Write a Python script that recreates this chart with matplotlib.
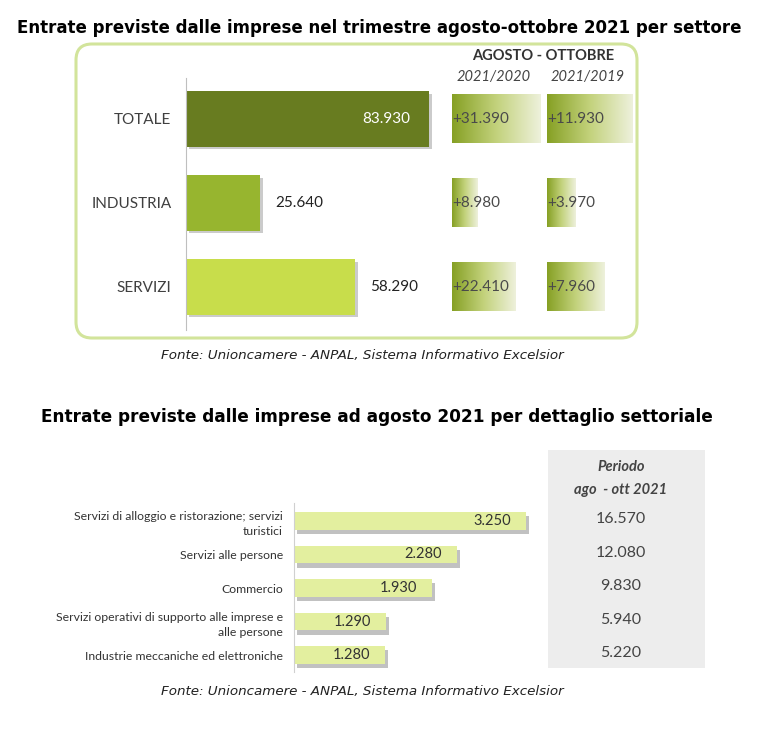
import matplotlib
matplotlib.use("Agg")
import matplotlib.pyplot as plt
import matplotlib.patheffects as pe
from matplotlib.patches import FancyBboxPatch, Rectangle
from matplotlib.colors import LinearSegmentedColormap
from matplotlib.transforms import blended_transform_factory
import numpy as np

# --- data -------------------------------------------------------------
settori = ["TOTALE", "INDUSTRIA", "SERVIZI"]
entrate = [83930, 25640, 58290]
var_2020 = [31390, 8980, 22410]
var_2019 = [11930, 3970, 7960]
colori_settori = ["#687c20", "#97b52f", "#c8dd4b"]

dettaglio = [
    "Servizi di alloggio e ristorazione; servizi\nturistici",
    "Servizi alle persone",
    "Commercio",
    "Servizi operativi di supporto alle imprese e\nalle persone",
    "Industrie meccaniche ed elettroniche",
]
entrate_agosto = [3250, 2280, 1930, 1290, 1280]
periodo_ago_ott = [16570, 12080, 9830, 5940, 5220]

titolo1 = "Entrate previste dalle imprese nel trimestre agosto-ottobre 2021 per settore"
titolo2 = "Entrate previste dalle imprese ad agosto 2021 per dettaglio settoriale"
fonte = "Fonte: Unioncamere - ANPAL, Sistema Informativo Excelsior"

W, H = 758, 729


def fmt(v):
    return f"{v:,}".replace(",", ".")


def rect(x0, y0, x1, y1):
    # pixel box (top-left origin) -> figure fraction
    return [x0 / W, 1 - y1 / H, (x1 - x0) / W, (y1 - y0) / H]


def fy(y):
    return 1 - y / H


plt.rcParams["font.family"] = ["Lato", "DejaVu Sans"]
fig = plt.figure(figsize=(W / 100, H / 100), dpi=100)
fig.patch.set_facecolor("white")

# titles and sources
fig.text(379 / W, fy(28), titolo1, ha="center", va="center", fontsize=12,
         fontweight="bold", family="DejaVu Sans")
fig.text(377 / W, fy(417), titolo2, ha="center", va="center", fontsize=12.2,
         fontweight="bold", family="DejaVu Sans")
for yy in (355, 692):
    fig.text(362 / W, fy(yy), fonte, ha="center", va="center", fontsize=9.7,
             style="italic", family="DejaVu Sans", color="#222222")

# rounded frame around the top chart
frame = FancyBboxPatch((76, H - 338), 561, 294,
                       boxstyle="round,pad=0,rounding_size=16",
                       transform=None, facecolor="none",
                       edgecolor="#d2e49b", linewidth=2.2)
fig.patches.append(frame)

# --- top chart: bars ---------------------------------------------------
ylim_top = (2.512, -0.488)
ax1 = fig.add_axes(rect(186, 78, 446, 330))
y = np.arange(len(settori))
bars = ax1.barh(y, entrate, height=0.655, color=colori_settori)
for b in bars:
    b.set_path_effects([pe.SimplePatchShadow(offset=(2, -2), shadow_rgbFace="#555555", alpha=0.3),
                        pe.Normal()])
ax1.set_xlim(0, 260 * 345.4)
ax1.set_ylim(*ylim_top)
ax1.set_yticks(y)
ax1.set_yticklabels(settori, fontsize=11, color="#404040")
ax1.tick_params(axis="y", length=0, pad=10.5)
ax1.set_xticks([])
for s in ("top", "right", "bottom"):
    ax1.spines[s].set_visible(False)
ax1.spines["left"].set_color("#bfbfbf")
ax1.patch.set_alpha(0)
for i, v in enumerate(entrate):
    if i == 0:
        ax1.annotate(fmt(v), (v, i), xytext=(-19, 0), textcoords="offset pixels",
                     ha="right", va="center", fontsize=11, color="white")
    else:
        ax1.annotate(fmt(v), (v, i), xytext=(15, 0), textcoords="offset pixels",
                     ha="left", va="center", fontsize=11, color="#222222")

# --- top chart: gradient variation boxes ------------------------------
grad_cmap = LinearSegmentedColormap.from_list("g", ["#86a024", "#c3d27c", "#eef1dc"])
grad = np.linspace(0, 1, 256).reshape(1, -1)
for left, right, vals, scale in ((452, 547, var_2020, 353), (547, 642, var_2019, 139)):
    ax = fig.add_axes(rect(left, 78, right, 330))
    for i, v in enumerate(vals):
        ax.imshow(grad, extent=[0, v, i + 0.29, i - 0.29], cmap=grad_cmap,
                  aspect="auto", interpolation="bilinear")
        ax.text(0, i, "+" + fmt(v), ha="left", va="center", fontsize=11,
                color="#4a4a4a")
    ax.set_xlim(0, (right - left) * scale)
    ax.set_ylim(*ylim_top)
    ax.axis("off")

fig.text(543 / W, fy(56), "AGOSTO - OTTOBRE", ha="center", va="center",
         fontsize=10.5, fontweight="bold", color="#333333")
fig.text(494 / W, fy(77), "2021/2020", ha="center", va="center",
         fontsize=10.5, style="italic", color="#444444")
fig.text(588 / W, fy(77), "2021/2019", ha="center", va="center",
         fontsize=10.5, style="italic", color="#444444")

# --- bottom chart -------------------------------------------------------
fig.patches.append(Rectangle((548 / W, fy(668)), (705 - 548) / W, (668 - 450) / H,
                             transform=fig.transFigure, facecolor="#ededed",
                             edgecolor="none", zorder=-1))

ax2 = fig.add_axes(rect(294, 503, 560, 672))
y2 = np.arange(len(dettaglio))
bars2 = ax2.barh(y2, entrate_agosto, height=0.53, color="#e3ef9f")
for b in bars2:
    b.set_path_effects([pe.SimplePatchShadow(offset=(2, -3), shadow_rgbFace="#666666", alpha=0.4),
                        pe.Normal()])
ax2.set_xlim(0, 266 * 14.0)
ax2.set_ylim(4.507, -0.537)
ax2.set_yticks(y2)
ax2.set_yticklabels(dettaglio, fontsize=8.8, color="#333333", linespacing=1.45)
ax2.tick_params(axis="y", length=0, pad=8)
ax2.set_xticks([])
for s in ("top", "right", "bottom"):
    ax2.spines[s].set_visible(False)
ax2.spines["left"].set_color("#d0d0d0")
ax2.patch.set_alpha(0)
for i, v in enumerate(entrate_agosto):
    ax2.annotate(fmt(v), (v, i), xytext=(-15, 0), textcoords="offset pixels",
                 ha="right", va="center", fontsize=10.5, color="#333333")

tr = blended_transform_factory(fig.transFigure, ax2.transData)
for i, v in enumerate(periodo_ago_ott):
    fig.text(621 / W, i - 0.05, fmt(v), transform=tr, ha="center", va="center",
             fontsize=11.5, color="#444444")
fig.text(621 / W, fy(467), "Periodo", ha="center", va="center", fontsize=10.5,
         style="italic", fontweight="bold", color="#444444")
fig.text(621 / W, fy(490), "ago  - ott 2021", ha="center", va="center",
         fontsize=10.5, style="italic", fontweight="bold", color="#444444")

fig.savefig("out.png", dpi=100)
